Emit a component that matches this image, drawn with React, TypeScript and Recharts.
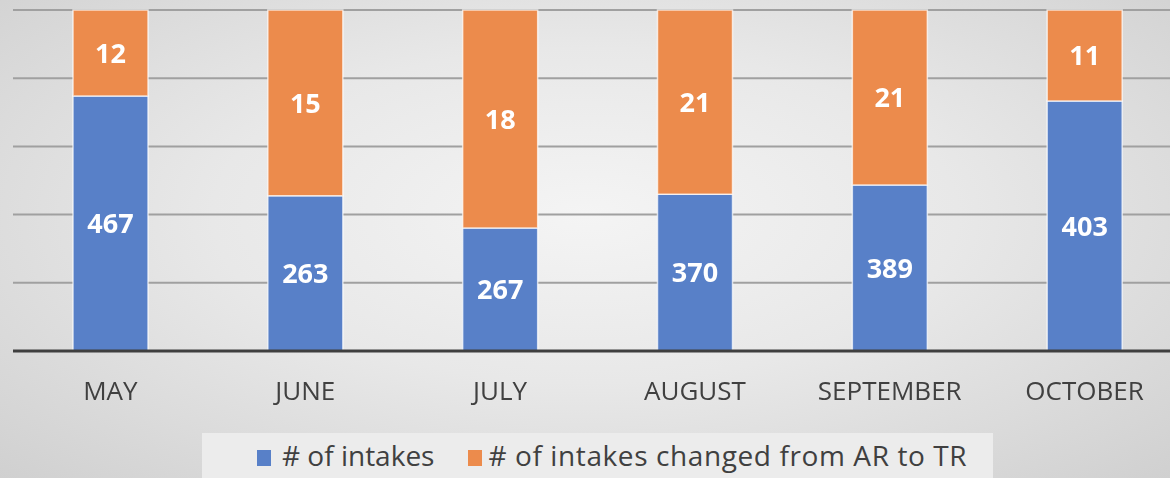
import { Bar, BarChart, CartesianGrid, LabelList, XAxis, YAxis } from 'recharts'

const months = ['MAY', 'JUNE', 'JULY', 'AUGUST', 'SEPTEMBER', 'OCTOBER']
// share of the column height each segment takes
const intakesShare = [74.8, 45.5, 36.1, 46.0, 48.7, 73.3]
const changedShare = [25.2, 54.5, 63.9, 54.0, 51.3, 26.7]
// numbers printed on the segments
const intakesLabels = [467, 263, 267, 370, 389, 403]
const changedLabels = [12, 15, 18, 21, 21, 11]
const yTicks = [0, 20, 40, 60, 80, 100]

const seriesNames = ['# of intakes', '# of intakes changed from AR to TR']
const seriesColours = ['#5880c8', '#ec8b4c']

const data = months.map((m, i) => ({
	month: m,
	intakes: intakesShare[i],
	changed: changedShare[i],
	intakesLabel: intakesLabels[i],
	changedLabel: changedLabels[i],
}))

const font = '"Open Sans", sans-serif'

const labelStyle = {
	fill: '#ffffff',
	fontFamily: font,
	fontSize: 27,
	fontWeight: 700,
}

const App = () => {
	return (
		<div
			style={{
				position: 'fixed',
				left: 0,
				top: 0,
				width: 1170,
				height: 478,
				overflow: 'hidden',
				background:
					'radial-gradient(ellipse at 50% 45%, #f4f4f4 0%, #e8e8e8 45%, #d0d0d0 100%)',
			}}
		>
			<BarChart
				width={1190}
				height={478}
				data={data}
				margin={{ top: 10, right: 8, left: 13, bottom: 0 }}
				barCategoryGap='30.8%'
			>
				<CartesianGrid
					vertical={false}
					stroke='#a0a0a0'
					strokeWidth={2}
				/>
				<YAxis hide domain={[0, 100]} ticks={yTicks} />
				<XAxis
					dataKey='month'
					height={127}
					axisLine={{ stroke: '#3f3f3f', strokeWidth: 3 }}
					tickLine={false}
					tickSize={0}
					tickMargin={31}
					tick={{ fill: '#404040', fontFamily: font, fontSize: 26 }}
				/>
				<Bar
					dataKey='intakes'
					stackId='a'
					fill={seriesColours[0]}
					stroke='rgba(255,255,255,0.7)'
					strokeWidth={1.5}
					isAnimationActive={false}
				>
					<LabelList dataKey='intakesLabel' position='center' style={labelStyle} />
				</Bar>
				<Bar
					dataKey='changed'
					stackId='a'
					fill={seriesColours[1]}
					stroke='rgba(255,255,255,0.7)'
					strokeWidth={1.5}
					isAnimationActive={false}
				>
					<LabelList dataKey='changedLabel' position='center' style={labelStyle} />
				</Bar>
			</BarChart>
			<div
				style={{
					position: 'absolute',
					left: 202,
					top: 433,
					width: 791,
					height: 50,
					background: '#ececec',
					display: 'flex',
					alignItems: 'center',
					gap: 34,
					paddingLeft: 55,
					paddingBottom: 6,
					boxSizing: 'border-box',
					fontFamily: font,
					fontSize: 28,
					color: '#404040',
				}}
			>
				{seriesNames.map((name, i) => (
					<div key={name} style={{ display: 'flex', alignItems: 'center' }}>
						<span
							style={{
								display: 'inline-block',
								width: 14,
								height: 16,
								background: seriesColours[i],
								marginRight: i === 0 ? 11 : 6,
								marginTop: 6,
							}}
						/>
						<span style={{ letterSpacing: i === 1 ? 0.6 : 0 }}>{name}</span>
					</div>
				))}
			</div>
		</div>
	)
}

export default App
